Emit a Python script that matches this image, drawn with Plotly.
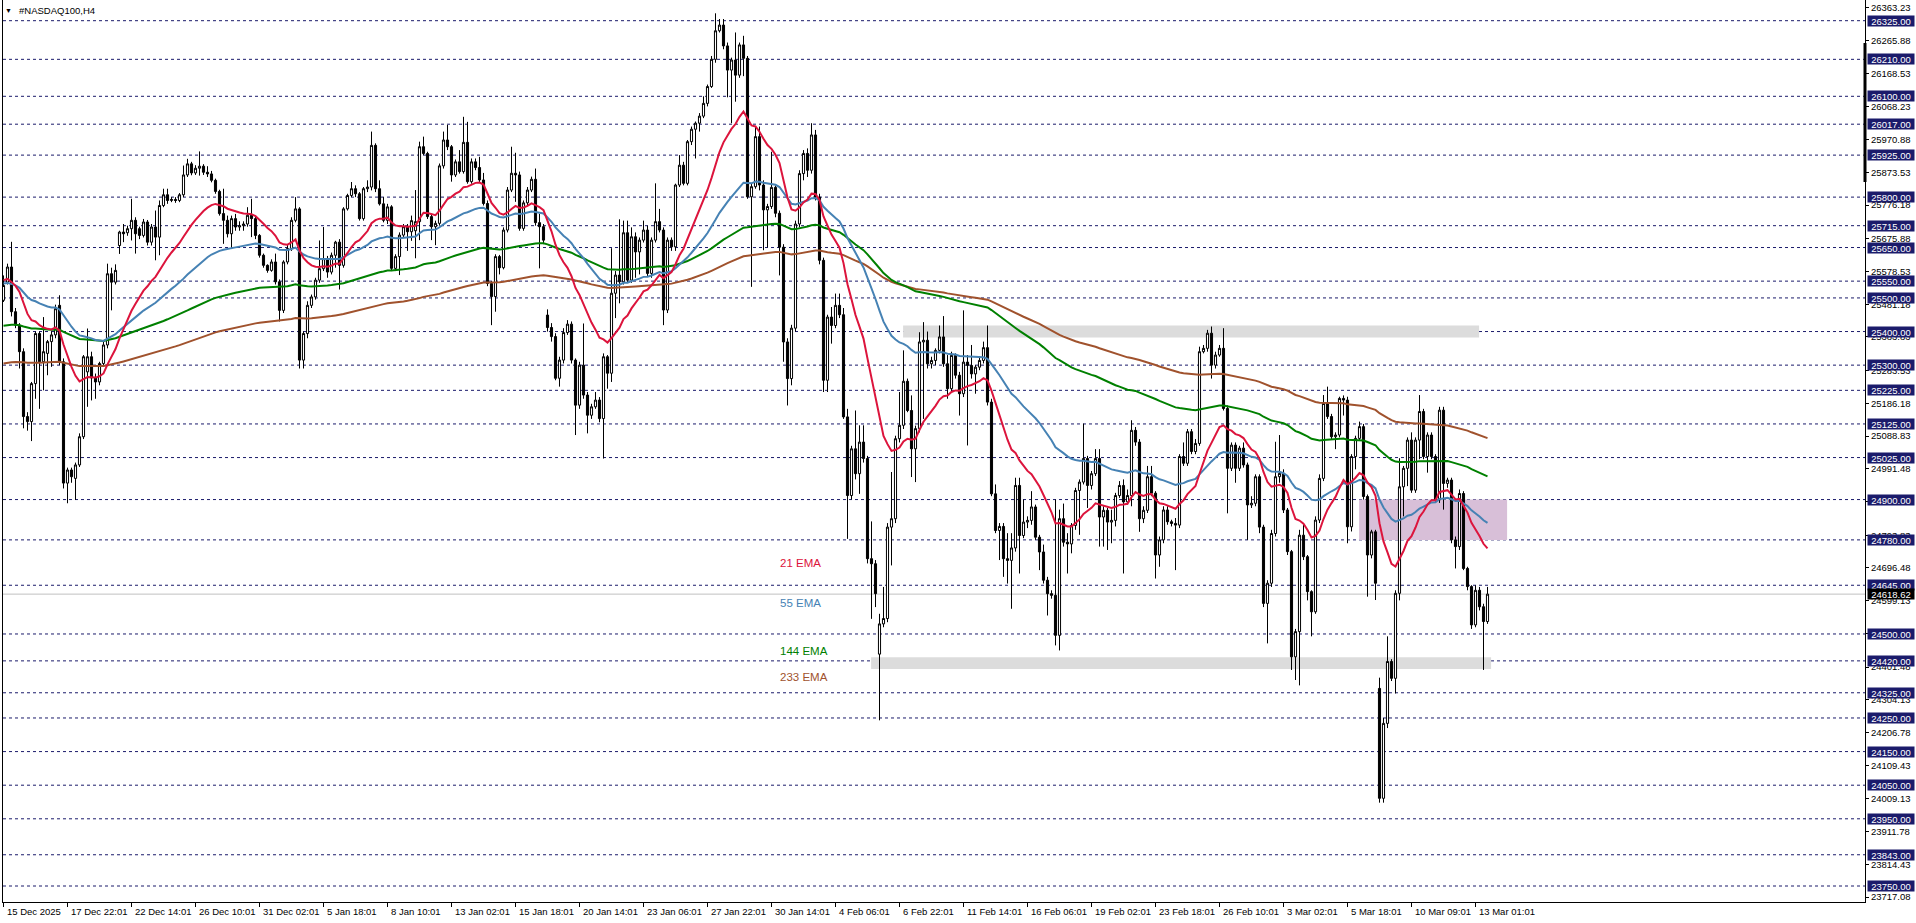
import plotly.graph_objects as go

# ---------------- data ----------------
open_ = [
    25493,25547,25592,25459,25419,25340,25147,25132,25245,25394,
    25310,25335,25370,25390,25478,25310,24949,24988,24963,25003,
    25087,25280,25325,25262,25250,25305,25360,25572,25547,25656,
    25696,25694,25706,25731,25706,25686,25726,25666,25711,25681,
    25775,25807,25790,25793,25790,25807,25866,25899,25872,25886,
    25892,25874,25869,25850,25817,25751,25731,25691,25736,25711,
    25715,25720,25746,25736,25686,25627,25597,25582,25607,25548,
    25463,25607,25647,25731,25765,25315,25394,25478,25503,25553,
    25587,25617,25577,25627,25666,25597,25765,25805,25825,25810,
    25736,25825,25830,25954,25825,25780,25731,25771,25588,25623,
    25687,25712,25697,25700,25727,25950,25930,25742,25712,25722,
    25893,25970,25950,25866,25905,25876,25963,25846,25905,25888,
    25851,25781,25543,25504,25623,25590,25702,25821,25871,25866,
    25707,25783,25821,25853,25724,25712,25449,25412,25385,25261,
    25315,25397,25422,25315,25181,25300,25211,25151,25176,25196,
    25141,25325,25276,25514,25568,25548,25694,25553,25682,25637,
    25672,25702,25573,25672,25727,25702,25464,25672,25652,25836,
    25895,25841,25965,26002,26020,26041,26079,26129,26210,26295,
    26312,26250,26178,26208,26163,26253,26213,25801,25831,25980,
    25836,25762,25772,25829,25752,25651,25369,25260,25410,25720,
    25870,25930,25880,25985,25800,25612,25255,25443,25418,25478,
    25450,25146,24912,25051,24977,25071,25022,24724,24709,24440,
    24530,24546,24818,24843,25081,25121,25252,25165,25051,25111,
    25369,25374,25304,25314,25344,25384,25304,25230,25329,25270,
    25215,25309,25299,25274,25294,25314,25352,25190,24917,24808,
    24820,24724,24719,24756,24942,24793,24833,24838,24878,24788,
    24744,24660,24620,24615,24496,24843,24773,24768,24823,24927,
    24952,25022,24942,24977,25022,24848,24868,24833,24838,24912,
    24942,24893,24912,25106,25071,24843,24868,24968,24919,24735,
    24780,24869,24834,24829,24824,25028,25008,25102,25043,25067,
    25340,25350,25395,25300,25330,25350,25171,24993,25062,24993,
    25053,25003,24884,24889,24968,24818,24591,24651,24799,24968,
    24978,24869,24745,24432,24507,24794,24730,24626,24566,24839,
    24963,25186,25147,25087,25092,25201,25196,24819,25028,25082,
    25117,24909,24735,24804,24338,24011,24234,24418,24368,24621,
    24938,24993,25077,24928,25077,25162,25028,25092,25028,24899,
    25166,24948,24958,24780,24760,24918,24695,24641,24527,24630,
    24581,24537,
]
high = [
    25567,25602,25667,25470,25425,25350,25160,25250,25400,25400,
    25443,25375,25400,25480,25508,25320,24995,24995,25010,25097,
    25330,25409,25340,25275,25310,25370,25602,25590,25600,25700,
    25720,25715,25795,25740,25712,25735,25732,25720,25760,25790,
    25825,25825,25800,25800,25812,25894,25914,25905,25895,25936,
    25898,25892,25878,25855,25822,25825,25745,25745,25750,25728,
    25728,25770,25795,25745,25690,25632,25600,25615,25632,25555,
    25612,25660,25740,25800,25770,25400,25490,25510,25560,25671,
    25711,25625,25635,25670,25675,25770,25810,25845,25835,25815,
    25830,25850,25995,25960,25850,25800,25780,25776,25630,25695,
    25720,25720,25745,25821,25965,25980,25935,25750,25730,25900,
    25995,26015,25955,25912,25940,26039,26024,25915,25915,25920,
    25872,25790,25550,25630,25628,25710,25830,25950,25932,25876,
    25790,25830,25861,25885,25750,25720,25466,25425,25395,25325,
    25410,25434,25430,25320,25310,25424,25220,25185,25220,25205,
    25335,25330,25648,25580,25734,25730,25730,25710,25695,25680,
    25730,25715,25680,25841,25765,25710,25680,25680,25840,25925,
    25905,25970,26010,26025,26050,26100,26135,26220,26347,26330,
    26330,26260,26215,26290,26260,26280,26220,25840,26010,26010,
    25850,25780,25935,25835,25760,25660,25380,25420,25730,25880,
    25940,25945,26020,26000,25810,25620,25450,25473,25513,25513,
    25470,25170,25060,25165,25121,25121,25030,24835,24720,24560,
    24640,24830,24982,25090,25220,25344,25260,25210,25120,25398,
    25428,25400,25325,25350,25418,25446,25330,25340,25335,25280,
    25463,25330,25360,25300,25325,25370,25418,25200,24945,24830,
    24830,24800,24800,24965,24965,24900,24850,24925,24885,24795,
    24766,24670,24630,24900,24870,24888,24800,24830,24935,24960,
    25126,25030,24985,25050,25050,24880,24875,24870,24920,24955,
    24960,24930,25136,25116,25080,24880,25000,25000,24925,24790,
    24880,24880,24840,24845,25035,25070,25110,25110,25080,25355,
    25360,25405,25415,25340,25360,25410,25180,25070,25070,25060,
    25070,25010,24910,24975,24975,24825,24660,24810,25072,25092,
    24990,24875,24750,24515,24810,24830,24735,24630,24850,24975,
    25211,25236,25155,25100,25206,25210,25206,25035,25090,25132,
    25125,24915,24810,24810,24370,24250,24493,24425,24630,25023,
    25000,25085,25100,25085,25211,25170,25100,25100,25035,25176,
    25176,24965,24965,24790,24930,24925,24700,24645,24645,24640,
    24590,24640,
]
low = [
    25488,25540,25445,25410,25290,25112,25105,25074,25200,25170,
    25225,25270,25295,25380,25300,24933,24889,24950,24899,24997,
    25080,25176,25195,25200,25240,25295,25350,25463,25540,25631,
    25666,25685,25671,25632,25675,25680,25656,25656,25612,25627,
    25770,25780,25785,25783,25785,25800,25860,25865,25866,25864,
    25866,25860,25844,25810,25745,25661,25680,25650,25700,25700,
    25700,25712,25681,25675,25620,25590,25575,25578,25540,25430,
    25455,25600,25640,25725,25290,25290,25380,25470,25495,25545,
    25580,25560,25570,25590,25525,25590,25760,25800,25800,25730,
    25730,25815,25820,25815,25775,25725,25720,25580,25580,25568,
    25680,25640,25670,25618,25672,25925,25735,25672,25657,25715,
    25885,25940,25846,25860,25870,25870,25840,25840,25880,25845,
    25775,25535,25419,25459,25570,25585,25695,25815,25786,25700,
    25700,25775,25815,25715,25588,25660,25400,25370,25255,25236,
    25305,25390,25305,25092,25170,25200,25097,25140,25170,25130,
    25022,25230,25250,25440,25484,25540,25545,25545,25560,25570,
    25665,25565,25560,25665,25695,25419,25455,25640,25640,25830,
    25835,25835,25955,25915,25995,26035,26070,26125,26200,26290,
    26240,26097,26020,26084,26155,26160,25795,25533,25825,25820,
    25642,25650,25765,25740,25567,25310,25180,25240,25400,25710,
    25850,25860,25870,25790,25600,25220,25220,25364,25410,25440,
    25140,24783,24900,24960,24917,25010,24710,24545,24580,24243,
    24520,24535,24704,24830,25070,25110,25160,24967,24952,25100,
    25140,25290,25290,25300,25335,25295,25200,25220,25260,25150,
    25205,25061,25260,25215,25285,25305,25180,24910,24800,24720,
    24670,24650,24575,24745,24680,24785,24815,24825,24780,24690,
    24650,24555,24605,24466,24451,24760,24680,24740,24810,24795,
    24945,24875,24930,24970,24760,24760,24750,24770,24820,24905,
    24680,24885,24880,25060,24804,24830,24860,24910,24665,24700,
    24770,24825,24820,24690,24815,25000,25000,25035,25035,25060,
    25335,25340,25260,25290,25325,25165,24859,24985,24950,24985,
    24995,24780,24875,24880,24800,24580,24472,24640,24790,24950,
    24860,24735,24393,24363,24347,24720,24600,24493,24560,24830,
    24955,25140,25080,25050,25085,25150,24770,24805,24990,25075,
    24900,24611,24725,24601,23998,23998,24220,24360,24323,24600,
    24850,24940,24920,24920,25020,25020,24980,25020,24890,24890,
    24870,24935,24770,24695,24750,24690,24630,24515,24520,24570,
    24393,24530,
]
close = [
    25537,25592,25459,25419,25340,25147,25132,25245,25394,25310,
    25340,25370,25390,25468,25310,24949,24988,24968,25003,25087,
    25325,25325,25262,25250,25305,25360,25572,25547,25582,25696,
    25691,25706,25731,25691,25686,25726,25666,25711,25681,25775,
    25807,25790,25793,25790,25807,25866,25899,25872,25886,25892,
    25874,25869,25850,25817,25751,25731,25691,25736,25711,25715,
    25720,25746,25736,25686,25627,25597,25582,25607,25548,25463,
    25607,25647,25731,25765,25315,25394,25478,25503,25553,25587,
    25617,25577,25627,25666,25597,25765,25805,25825,25810,25736,
    25825,25830,25954,25825,25780,25731,25771,25588,25623,25687,
    25712,25697,25730,25727,25950,25930,25742,25712,25722,25893,
    25970,25950,25866,25905,25876,25963,25846,25905,25888,25851,
    25781,25543,25504,25623,25590,25702,25821,25871,25866,25707,
    25783,25821,25853,25724,25712,25672,25412,25385,25261,25315,
    25397,25422,25315,25181,25300,25211,25151,25176,25196,25141,
    25325,25276,25514,25568,25548,25694,25553,25682,25637,25672,
    25702,25573,25672,25727,25702,25464,25672,25652,25836,25895,
    25841,25965,26002,26020,26041,26079,26129,26210,26295,26312,
    26250,26178,26208,26163,26253,26213,25801,25831,25980,25836,
    25762,25772,25829,25752,25651,25369,25260,25410,25720,25870,
    25930,25880,25985,25800,25612,25255,25443,25418,25478,25450,
    25146,24912,25051,24977,25071,25022,24724,24709,24620,24530,
    24546,24818,24843,25081,25121,25252,25165,25051,25111,25369,
    25374,25304,25314,25344,25384,25304,25230,25329,25270,25215,
    25309,25299,25274,25294,25314,25352,25190,24917,24808,24820,
    24724,24719,24756,24942,24793,24833,24838,24878,24788,24744,
    24660,24620,24615,24496,24843,24773,24768,24823,24927,24952,
    25022,24942,24977,25022,24848,24868,24833,24838,24912,24942,
    24893,24912,25106,25071,24843,24868,24968,24919,24735,24780,
    24869,24834,24829,24824,25028,25008,25102,25043,25067,25340,
    25350,25395,25300,25330,25350,25171,24993,25062,24993,25053,
    25003,24884,24889,24968,24818,24591,24651,24799,24968,24978,
    24869,24745,24432,24507,24794,24730,24626,24566,24839,24963,
    25186,25147,25087,25092,25201,25196,24819,25028,25082,25117,
    24909,24735,24804,24651,24011,24234,24418,24368,24621,24938,
    24993,25077,24928,25077,25162,25028,25092,25028,24899,25166,
    24948,24958,24780,24760,24918,24695,24641,24527,24630,24581,
    24537,24618.62,
]

x_tick_index = [0, 16, 32, 48, 64, 80, 96, 112, 128, 144, 160, 176,
                192, 208, 224, 240, 256, 272, 288, 304, 320, 336, 352, 368]
x_tick_labels = ["15 Dec 2025", "17 Dec 22:01", "22 Dec 14:01", "26 Dec 10:01",
                 "31 Dec 02:01", "5 Jan 18:01", "8 Jan 10:01", "13 Jan 02:01",
                 "15 Jan 18:01", "20 Jan 14:01", "23 Jan 06:01", "27 Jan 22:01",
                 "30 Jan 14:01", "4 Feb 06:01", "6 Feb 22:01", "11 Feb 14:01",
                 "16 Feb 06:01", "19 Feb 02:01", "23 Feb 18:01", "26 Feb 10:01",
                 "3 Mar 02:01", "5 Mar 18:01", "10 Mar 09:01", "13 Mar 01:01"]

price_ticks = [26363.23, 26265.88, 26168.53, 26068.23, 25970.88, 25873.53,
               25776.18, 25675.88, 25578.53, 25481.18, 25383.83, 25283.53,
               25186.18, 25088.83, 24991.48, 24894.13, 24793.83, 24696.48,
               24599.13, 24501.78, 24401.48, 24304.13, 24206.78, 24109.43,
               24009.13, 23911.78, 23814.43, 23717.08]

levels = [26325, 26210, 26100, 26017, 25925, 25800, 25715, 25650, 25550,
          25500, 25400, 25300, 25225, 25125, 25025, 24900, 24780, 24645,
          24500, 24420, 24325, 24250, 24150, 24050, 23950, 23843, 23750]

last_price = 24618.62

ema_periods = [233, 144, 55, 21]
ema_start = [25305, 25417, 25543, 25553]   # indicator values at the first bar
ema_names = ["233 EMA", "144 EMA", "55 EMA", "21 EMA"]

# zones: (bar from, bar to, price low, price high)
zone_upper = (224.9, 368.9, 25382, 25418)
zone_lower = (216.9, 371.9, 24396, 24431)
zone_pink = (338.9, 375.9, 24780, 24900)

# ---------------- styling ----------------
FONT = "Liberation Sans, Arial, sans-serif"
NAVY = "#1B1B6B"
ema_colors = {233: "#A0522D", 144: "#008000", 55: "#4682B4", 21: "#DC143C"}

n = len(close)
xs = list(range(n))

# plot-area geometry (pixels)
PL, PR, PT, PB = 3, 1865, 0, 902
PW, PH = PR - PL, PB - PT


def paper_x(px):
    return (px - PL) / PW


def paper_y(py):
    return 1 - (py - PT) / PH


def ema(values, period, start):
    k = 2.0 / (period + 1)
    out = [start]
    for v in values[1:]:
        out.append(out[-1] + k * (v - out[-1]))
    return out


fig = go.Figure()

fig.add_trace(go.Candlestick(
    x=xs, open=open_, high=high, low=low, close=close,
    increasing=dict(line=dict(color="black", width=1), fillcolor="white"),
    decreasing=dict(line=dict(color="black", width=1), fillcolor="black"),
    whiskerwidth=0, hoverinfo="skip", showlegend=False,
))

for per, st in zip(ema_periods, ema_start):
    fig.add_trace(go.Scatter(
        x=xs, y=ema(close, per, st), mode="lines",
        line=dict(color=ema_colors[per], width=2),
        hoverinfo="skip", showlegend=False,
    ))

shapes = []
for (xa, xb, ya, yb), col in [(zone_upper, "#DCDCDC"), (zone_lower, "#DCDCDC"),
                              (zone_pink, "#D8BFD8")]:
    shapes.append(dict(type="rect", xref="x", yref="y", x0=xa, x1=xb, y0=ya, y1=yb,
                       fillcolor=col, line=dict(width=0), layer="below"))
shapes.append(dict(type="line", xref="paper", yref="y", x0=0, x1=1,
                   y0=last_price, y1=last_price,
                   line=dict(color="#C0C0C0", width=1), layer="below"))
for lv in levels:
    shapes.append(dict(type="line", xref="paper", yref="y", x0=0, x1=1, y0=lv, y1=lv,
                       line=dict(color=NAVY, width=1, dash="3px,3px"), layer="below"))
# small dark marker on the price scale
shapes.append(dict(type="line", xref="paper", yref="paper", x0=1.0, x1=1.0,
                   y0=paper_y(182), y1=paper_y(43),
                   line=dict(color="black", width=3)))

annotations = []
# title
annotations.append(dict(xref="paper", yref="paper", x=paper_x(8), y=paper_y(10),
                        text="▼", showarrow=False, xanchor="center", yanchor="middle",
                        font=dict(family=FONT, size=7, color="black")))
annotations.append(dict(xref="paper", yref="paper", x=paper_x(17), y=paper_y(10),
                        text="#NASDAQ100,H4", showarrow=False, xanchor="left",
                        yanchor="middle", font=dict(family=FONT, size=9.5, color="black")))
# EMA legend texts
ema_label_y = {21: 563, 55: 603, 144: 651, 233: 677}
for per, name in zip(ema_periods, ema_names):
    annotations.append(dict(xref="paper", yref="paper", x=paper_x(778),
                            y=paper_y(ema_label_y[per]), text=name, showarrow=False,
                            xanchor="left", yanchor="middle",
                            font=dict(family=FONT, size=11.5, color=ema_colors[per])))
# level tags on the price scale
for lv in levels:
    annotations.append(dict(xref="paper", yref="y", x=paper_x(1867), y=lv,
                            text=f"{lv:.2f}", showarrow=False, xanchor="left",
                            yanchor="middle", bgcolor=NAVY, width=46, height=10,
                            borderpad=0, align="center",
                            font=dict(family=FONT, size=9.5, color="white")))
annotations.append(dict(xref="paper", yref="y", x=paper_x(1867), y=last_price,
                        text=f"{last_price:.2f}", showarrow=False, xanchor="left",
                        yanchor="middle", bgcolor="black", width=46, height=10,
                        borderpad=0, align="center",
                        font=dict(family=FONT, size=9.5, color="white")))
# time labels (left aligned at their tick)
for ti, tl in zip(x_tick_index, x_tick_labels):
    annotations.append(dict(xref="x", yref="paper", x=ti + 0.3, y=paper_y(912),
                            text=tl, showarrow=False, xanchor="left", yanchor="middle",
                            font=dict(family=FONT, size=9.5, color="black")))

fig.update_layout(
    width=1916, height=923,
    margin=dict(l=PL, r=1916 - PR, t=PT, b=923 - PB, pad=0),
    paper_bgcolor="white", plot_bgcolor="white",
    showlegend=False, boxgap=0.25, hovermode=False,
    shapes=shapes, annotations=annotations,
    xaxis=dict(range=[-0.125, -0.125 + PW / 4.0], showgrid=False, zeroline=False,
               showline=True, linecolor="black", linewidth=1,
               tickvals=x_tick_index, ticks="outside", ticklen=4, tickcolor="black",
               showticklabels=False, rangeslider=dict(visible=False),
               fixedrange=True),
    yaxis=dict(range=[23702.4, 26386.6], side="right", showgrid=False, zeroline=False,
               showline=True, mirror=True, linecolor="black", linewidth=1,
               tickvals=price_ticks, ticktext=[f"{v:.2f}" for v in price_ticks],
               ticks="outside", ticklen=3, tickcolor="black",
               tickfont=dict(family=FONT, size=9.5, color="black"),
               fixedrange=True),
)

fig.write_html("out.html", config={"displayModeBar": False},
               post_script="document.body.style.margin='0px';"
                           "document.body.style.overflow='hidden';")
